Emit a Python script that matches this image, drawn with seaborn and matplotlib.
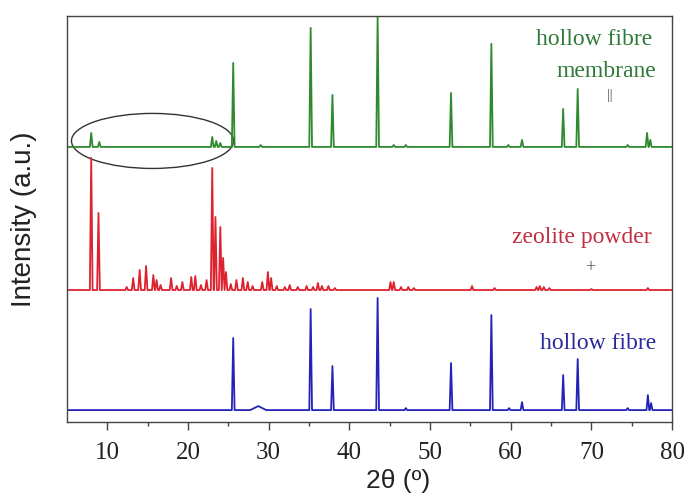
import numpy as np
import pandas as pd
import matplotlib
matplotlib.use("Agg")
import matplotlib.pyplot as plt
import seaborn as sns
from matplotlib.patches import Ellipse

# ---- data (2theta in degrees, intensity in a.u.) ----
membrane_pos = [8.0, 9.0, 23.0, 23.5, 24.0, 25.6, 29.0, 35.2, 37.9, 43.5, 45.5, 47.0,
                52.6, 57.6, 59.7, 61.4, 66.5, 68.3, 74.5, 76.9, 77.3]
membrane_int = [14, 5, 10, 6, 4, 84, 2, 119, 52, 130, 2, 2,
                54, 103, 2, 7, 38, 58, 2, 14, 7]

powder_pos = [8.0, 8.9, 12.4, 13.2, 14.0, 14.8, 15.7, 16.1, 16.6, 17.9, 18.6, 19.3,
              20.4, 20.9, 21.6, 22.3, 23.0, 23.4, 24.0, 24.35, 24.7, 25.3, 26.0, 26.8,
              27.4, 28.0, 29.2, 29.9, 30.3, 31.0, 32.0, 32.6, 33.6, 34.7, 35.5, 36.1,
              36.6, 37.4, 38.2, 45.1, 45.5, 46.4, 47.3, 48.0, 55.2, 58.0, 63.2, 63.6,
              64.1, 64.8, 70.0, 77.0]
powder_int = [132, 77, 3, 12, 20, 24, 15, 10, 5, 12, 4, 8,
              13, 14, 5, 10, 122, 73, 63, 32, 18, 6, 10, 12,
              8, 4, 8, 18, 12, 4, 3, 5, 3, 4, 3, 7,
              4, 4, 2, 8, 8, 3, 3, 2, 4, 2, 3, 4,
              3, 2, 1, 2]

fibre_pos = [25.6, 35.2, 37.9, 43.5, 47.0, 52.6, 57.6, 59.8, 61.4, 66.5, 68.3, 74.5, 77.0, 77.4]
fibre_int = [72, 101, 44, 112, 2, 47, 95, 2, 8, 35, 51, 2, 15, 7]
fibre_hump_pos = [28.7]
fibre_hump_int = [4]

offsets = {"hollow fibre membrane": 275, "zeolite powder": 132, "hollow fibre": 12}
x_ticks = [10, 20, 30, 40, 50, 60, 70, 80]

X_MIN, X_MAX = 5, 80
HW = 0.17


def trace(pos, inten, base, hw=HW, extra=()):
    pk = sorted(list(zip(pos, inten, [hw] * len(pos))) + list(extra))
    xs, ys = [X_MIN], [base]
    for p, h, w in pk:
        xs += [p - w, p, p + w]
        ys += [base, base + h, base]
    xs.append(X_MAX)
    ys.append(base)
    return pd.DataFrame({"two_theta": xs, "intensity": ys})


sns.set_theme(style="white")
plt.rcParams["font.family"] = ["Liberation Sans", "DejaVu Sans"]

fig = plt.figure(figsize=(6.86, 4.96), dpi=100)
ax = fig.add_axes([0.0977, 0.149, 0.882, 0.819])

green = "#2f8a2f"
red = "#dd2230"
blue = "#2323b8"

df_m = trace(membrane_pos, membrane_int, offsets["hollow fibre membrane"])
df_p = trace(powder_pos, powder_int, offsets["zeolite powder"])
df_f = trace(fibre_pos, fibre_int, offsets["hollow fibre"],
             extra=[(p, h, 1.0) for p, h in zip(fibre_hump_pos, fibre_hump_int)])

for df, c in [(df_m, green), (df_p, red), (df_f, blue)]:
    sns.lineplot(data=df, x="two_theta", y="intensity", ax=ax, color=c,
                 sort=False, estimator=None, linewidth=1.3)

ax.set_xlim(X_MIN, X_MAX)
ax.set_ylim(0, 406)
ax.set_xticks(x_ticks)
ax.set_xticks([15, 25, 35, 45, 55, 65, 75], minor=True)
ax.set_yticks([])
ax.tick_params(axis="x", which="major", direction="out", length=6, width=1,
               color="#444444", bottom=True, pad=8)
ax.tick_params(axis="x", which="minor", direction="out", length=3, width=1,
               color="#444444", bottom=True)
for lab in ax.get_xticklabels():
    lab.set_fontfamily("Liberation Serif")
    lab.set_fontsize(18)
    lab.set_color("#222222")

for s in ax.spines.values():
    s.set_color("#444444")
    s.set_linewidth(1.0)
    s.set_visible(True)

ax.set_xlabel("2θ (º)", fontsize=19, color="#222222")
ax.xaxis.set_label_coords(0.547, -0.115)
ax.set_ylabel("Intensity (a.u.)", fontsize=20, color="#222222")
ax.yaxis.set_label_coords(-0.05, 0.5)

serif = "Liberation Serif"
ax.text(70.3, 382, "hollow fibre", color="#2f7a3a", fontsize=17, family=serif,
        ha="center", va="center")
ax.text(71.9, 350, "membrane", color="#2f7a3a", fontsize=17, family=serif,
        ha="center", va="center")
ax.text(72.3, 326, "||", color="#555555", fontsize=10, family=serif,
        ha="center", va="center")
ax.text(68.8, 184, "zeolite powder", color="#c03040", fontsize=17, family=serif,
        ha="center", va="center")
ax.text(69.8, 154, "+", color="#555555", fontsize=13, family=serif,
        ha="center", va="center")
ax.text(70.8, 79, "hollow fibre", color="#2a2a9a", fontsize=17, family=serif,
        ha="center", va="center")

ax.add_patch(Ellipse((15.6, 281), width=20.1, height=55, fill=False,
                     edgecolor="#333333", linewidth=1.0))

fig.savefig("out.png", dpi=100)
